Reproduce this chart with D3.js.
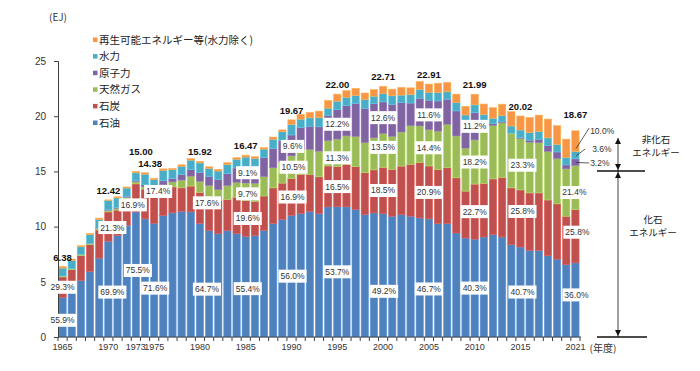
<!DOCTYPE html>
<html>
<head>
<meta charset="utf-8">
<script src="https://cdn.jsdelivr.net/npm/d3@7"></script>
<style>
  body { margin: 0; background: #fff; }
  svg { display: block; }
</style>
</head>
<body>
<div id="chart"></div>
<script>
// 年度
var years = d3.range(1965, 2022);

// EJ, 1965..2021
var oil = [3.57, 4.20, 5.12, 5.94, 7.15, 8.68, 9.20, 10.12, 11.33, 10.70,
  10.30, 11.00, 11.25, 11.39, 11.34, 10.30, 9.64, 9.36, 9.64, 9.36,
  9.12, 9.18, 9.67, 10.27, 10.64, 11.02, 11.18, 11.39, 11.18, 11.79,
  11.81, 11.79, 11.55, 11.09, 11.24, 11.17, 10.94, 11.09, 10.94, 10.79,
  10.70, 10.27, 10.27, 9.42, 8.97, 8.86, 9.06, 9.27, 9.06, 8.36,
  8.15, 7.85, 7.85, 7.36, 7.06, 6.55, 6.72];
var coal = [1.87, 1.90, 2.25, 2.42, 2.55, 2.65, 2.30, 2.35, 2.54, 2.70,
  2.50, 2.40, 2.35, 2.12, 2.33, 2.80, 3.10, 3.00, 2.82, 3.30,
  3.23, 3.10, 3.10, 3.24, 3.30, 3.32, 3.55, 3.33, 3.33, 3.70,
  3.63, 3.85, 3.88, 3.79, 3.90, 4.20, 4.24, 4.39, 4.70, 5.00,
  4.79, 4.90, 5.06, 5.00, 4.24, 4.99, 4.85, 5.05, 5.40, 5.15,
  5.17, 5.20, 5.20, 5.05, 5.00, 4.39, 4.82];
var gas = [0.08, 0.08, 0.10, 0.12, 0.15, 0.15, 0.15, 0.18, 0.20, 0.22,
  0.33, 0.40, 0.45, 0.70, 0.90, 1.00, 1.00, 1.00, 1.27, 1.35,
  1.60, 1.65, 1.76, 1.82, 1.90, 2.07, 2.27, 2.27, 2.33, 2.30,
  2.49, 2.58, 2.73, 2.73, 2.90, 3.07, 3.00, 3.09, 3.50, 3.33,
  3.30, 3.48, 3.94, 3.79, 3.90, 4.00, 4.75, 4.85, 4.95, 4.95,
  4.66, 4.60, 4.55, 4.40, 4.10, 4.30, 4.00];
var nuclear = [0, 0, 0, 0.01, 0.02, 0.04, 0.07, 0.09, 0.10, 0.18,
  0.22, 0.35, 0.30, 0.50, 0.60, 0.82, 0.80, 0.90, 1.06, 1.30,
  1.50, 1.55, 1.73, 1.73, 1.95, 1.89, 1.97, 2.10, 2.20, 2.27,
  2.68, 2.73, 3.00, 3.10, 3.10, 2.86, 2.90, 2.67, 2.05, 2.50,
  2.66, 2.73, 2.27, 2.27, 2.40, 2.46, 0.88, 0.15, 0.10, 0.00,
  0.09, 0.18, 0.30, 0.55, 0.60, 0.35, 0.60];
var hydro = [0.72, 0.75, 0.70, 0.78, 0.78, 0.85, 0.88, 0.75, 0.70, 0.95,
  0.90, 0.95, 0.80, 0.76, 0.85, 0.85, 0.73, 0.77, 0.85, 0.78,
  0.85, 0.70, 0.76, 0.85, 0.80, 0.95, 0.76, 0.76, 0.82, 0.67,
  0.75, 0.76, 0.70, 0.79, 0.67, 0.75, 0.77, 0.67, 0.76, 0.79,
  0.72, 0.76, 0.67, 0.76, 0.60, 0.72, 0.60, 0.50, 0.55, 0.65,
  0.68, 0.68, 0.70, 0.68, 0.68, 0.68, 0.67];
var renew = [0.14, 0.13, 0.10, 0.12, 0.12, 0.05, 0.10, 0.10, 0.13, 0.13,
  0.13, 0.13, 0.12, 0.13, 0.15, 0.15, 0.15, 0.15, 0.15, 0.15,
  0.17, 0.15, 0.13, 0.20, 0.17, 0.42, 0.45, 0.50, 0.60, 0.70,
  0.64, 0.60, 0.67, 0.60, 0.60, 0.66, 0.60, 0.70, 0.62, 0.73,
  0.74, 0.85, 0.85, 0.76, 0.79, 0.96, 0.96, 0.95, 1.03, 1.30,
  1.27, 1.37, 1.50, 1.70, 1.70, 1.65, 1.87];

var seriesKeys = ["oil", "coal", "gas", "nuclear", "hydro", "renew"];
var seriesNames = { oil: "石油", coal: "石炭", gas: "天然ガス", nuclear: "原子力", hydro: "水力", renew: "再生可能エネルギー等(水力除く)" };
var colors = { oil: "#4f81bd", coal: "#c0504d", gas: "#9bbb59", nuclear: "#8064a2", hydro: "#4bacc6", renew: "#f79646" };

var tickYears = [1965, 1970, 1973, 1975, 1980, 1985, 1990, 1995, 2000, 2005, 2010, 2015, 2021];

var totalYears = [1965, 1970, 1973, 1975, 1980, 1985, 1990, 1995, 2000, 2005, 2010, 2015, 2021];
var totalText = ["6.38", "12.42", "15.00", "14.38", "15.92", "16.47", "19.67", "22.00", "22.71", "22.91", "21.99", "20.02", "18.67"];

// 構成比ラベル
var shareLabels = [
  { year: 1965, key: "oil", text: "55.9%" }, { year: 1965, key: "coal", text: "29.3%" },
  { year: 1970, key: "oil", text: "69.9%" }, { year: 1970, key: "coal", text: "21.3%" },
  { year: 1973, key: "oil", text: "75.5%" }, { year: 1973, key: "coal", text: "16.9%" },
  { year: 1975, key: "oil", text: "71.6%" }, { year: 1975, key: "coal", text: "17.4%" },
  { year: 1980, key: "oil", text: "64.7%" }, { year: 1980, key: "coal", text: "17.6%" },
  { year: 1985, key: "oil", text: "55.4%" }, { year: 1985, key: "coal", text: "19.6%" },
  { year: 1985, key: "gas", text: "9.7%" }, { year: 1985, key: "nuclear", text: "9.1%" },
  { year: 1990, key: "oil", text: "56.0%" }, { year: 1990, key: "coal", text: "16.9%" },
  { year: 1990, key: "gas", text: "10.5%" }, { year: 1990, key: "nuclear", text: "9.6%" },
  { year: 1995, key: "oil", text: "53.7%" }, { year: 1995, key: "coal", text: "16.5%" },
  { year: 1995, key: "gas", text: "11.3%" }, { year: 1995, key: "nuclear", text: "12.2%" },
  { year: 2000, key: "oil", text: "49.2%" }, { year: 2000, key: "coal", text: "18.5%" },
  { year: 2000, key: "gas", text: "13.5%" }, { year: 2000, key: "nuclear", text: "12.6%" },
  { year: 2005, key: "oil", text: "46.7%" }, { year: 2005, key: "coal", text: "20.9%" },
  { year: 2005, key: "gas", text: "14.4%" }, { year: 2005, key: "nuclear", text: "11.6%" },
  { year: 2010, key: "oil", text: "40.3%" }, { year: 2010, key: "coal", text: "22.7%" },
  { year: 2010, key: "gas", text: "18.2%" }, { year: 2010, key: "nuclear", text: "11.2%" },
  { year: 2015, key: "oil", text: "40.7%" }, { year: 2015, key: "coal", text: "25.8%" },
  { year: 2015, key: "gas", text: "23.3%" },
  { year: 2021, key: "oil", text: "36.0%" }, { year: 2021, key: "coal", text: "25.8%" },
  { year: 2021, key: "gas", text: "21.4%" }
];
var calloutLabels = [
  { year: 2021, key: "renew", text: "10.0%" },
  { year: 2021, key: "hydro", text: "3.6%" },
  { year: 2021, key: "nuclear", text: "3.2%" }
];

// label nudges (px) where the original moved a label off the segment centre
var nudge = {
  "1965-oil": [0, 3], "1970-oil": [4, 3], "1970-coal": [4, 1],
  "1973-oil": [2, -4], "1973-coal": [-3, 7], "1975-oil": [1, 8], "1975-coal": [4, -18],
  "1980-oil": [7, 9], "1980-coal": [7, -5], "1985-oil": [2, 2], "1985-coal": [2, 0],
  "1985-gas": [2, 2], "1985-nuclear": [2, -2], "1990-oil": [1, 0], "1990-coal": [1, 0],
  "1990-gas": [2, 0], "1990-nuclear": [1, 1], "1995-gas": [0, 5],
  "2000-oil": [1, 16], "2000-gas": [0, -3], "2005-oil": [0, 11],
  "2015-oil": [2, 0], "2015-coal": [2, -7], "2015-gas": [2, 1],
  "2021-oil": [1, -5], "2021-coal": [2, -4], "2021-gas": [-1, 5]
};
var totalNudge = { "1973": [5, -10], "1975": [-4, -5], "2021": [0, -7] };

var width = 700, height = 371;
var plotL = 58, plotR = 580, plotT = 61, plotB = 337;
var numFont = "'Liberation Sans', Arial, sans-serif";
var jpFont = "'Noto Sans CJK JP', sans-serif";

var rows = years.map(function (y, i) {
  return { year: y, oil: oil[i], coal: coal[i], gas: gas[i], nuclear: nuclear[i], hydro: hydro[i], renew: renew[i] };
});
var stacked = d3.stack().keys(seriesKeys)(rows);

var svg = d3.select("#chart").append("svg")
  .attr("width", width).attr("height", height);
svg.append("rect").attr("width", width).attr("height", height).attr("fill", "#fff");

var xScale = d3.scaleBand().domain(years).range([plotL, plotR]).paddingInner(0.2).paddingOuter(0.1);
var yScale = d3.scaleLinear().domain([0, 25]).range([plotB, plotT]);
var step = xScale.step();

// bars
svg.append("g").selectAll("g")
  .data(stacked).enter()
  .append("g")
  .attr("fill", function (d) { return colors[d.key]; })
  .attr("stroke", function (d) { return d3.color(colors[d.key]).brighter(0.5); })
  .attr("stroke-width", 0.6)
  .selectAll("rect")
  .data(function (d) { return d; }).enter()
  .append("rect")
  .attr("x", function (d) { return xScale(d.data.year); })
  .attr("width", xScale.bandwidth())
  .attr("y", function (d) { return yScale(d[1]); })
  .attr("height", function (d) { return Math.max(0, yScale(d[0]) - yScale(d[1])); });

// axes
var yAxis = d3.axisLeft(yScale).tickValues([0, 5, 10, 15, 20, 25]).tickSize(4).tickPadding(8);
var gy = svg.append("g").attr("transform", "translate(" + plotL + ",0)").call(yAxis);
gy.select(".domain").attr("stroke", "#404040");
gy.selectAll(".tick line").attr("stroke", "#404040");
gy.selectAll("text").attr("font-family", numFont).attr("font-size", 10).attr("fill", "#333");

var xAxis = d3.axisBottom(xScale).tickValues(tickYears).tickSize(0).tickPadding(7);
var gx = svg.append("g").attr("transform", "translate(0," + plotB + ")").call(xAxis);
gx.select(".domain").remove();
gx.selectAll("text").attr("font-family", numFont).attr("font-size", 9).attr("fill", "#333");
svg.append("line").attr("x1", plotL).attr("x2", plotR + 1).attr("y1", plotB).attr("y2", plotB)
  .attr("stroke", "#404040");
svg.append("g").selectAll("line")
  .data(d3.range(years.length + 1)).enter()
  .append("line")
  .attr("x1", function (i) { return plotL + i * step; })
  .attr("x2", function (i) { return plotL + i * step; })
  .attr("y1", plotB).attr("y2", plotB + 4)
  .attr("stroke", "#404040");

// unit
svg.append("text").attr("x", 58).attr("y", 21).attr("text-anchor", "middle")
  .attr("font-family", jpFont).attr("font-size", 10).attr("fill", "#333").text("(EJ)");
svg.append("text").attr("x", 603).attr("y", 352).attr("text-anchor", "middle")
  .attr("font-family", jpFont).attr("font-size", 10).attr("fill", "#333").text("(年度)");

// legend
var legendKeys = seriesKeys.slice().reverse();
var legend = svg.append("g").attr("transform", "translate(93,40)");
var item = legend.selectAll("g").data(legendKeys).enter().append("g")
  .attr("transform", function (d, i) { return "translate(0," + (i * 16.6) + ")"; });
item.append("rect").attr("x", 0).attr("y", -2.5).attr("width", 4.5).attr("height", 4.5)
  .attr("fill", function (d) { return colors[d]; });
item.append("text").attr("x", 6).attr("y", 0).attr("dy", "0.35em")
  .attr("font-family", jpFont).attr("font-size", 10.5).attr("fill", "#222")
  .text(function (d) { return seriesNames[d]; });

// share labels with white boxes
function segment(year, key) {
  return stacked[seriesKeys.indexOf(key)][years.indexOf(year)];
}
var lab = svg.append("g");
shareLabels.forEach(function (l) {
  var s = segment(l.year, l.key);
  var n = nudge[l.year + "-" + l.key] || [0, 0];
  var cx = xScale(l.year) + xScale.bandwidth() / 2 + n[0];
  var cy = yScale((s[0] + s[1]) / 2) + n[1];
  var g = lab.append("g");
  var t = g.append("text").attr("x", cx).attr("y", cy).attr("dy", "0.35em")
    .attr("text-anchor", "middle").attr("font-family", numFont).attr("font-size", 8.5)
    .attr("fill", "#333").text(l.text);
  var w = t.node().getComputedTextLength() + 4;
  g.insert("rect", "text").attr("x", cx - w / 2).attr("y", cy - 6.5)
    .attr("width", w).attr("height", 13).attr("fill", "#fff");
});

// call-outs for 2021 non-fossil shares
calloutLabels.forEach(function (l, i) {
  var s = segment(l.year, l.key);
  var x0 = xScale(l.year) + xScale.bandwidth() * 0.6;
  var y0 = yScale(s[0]) - 3;
  var tx = x0 + 14 + (l.key === "hydro" ? 2 : 0);
  var ty = [131, 149, 163][i];
  svg.append("line").attr("x1", x0).attr("y1", y0)
    .attr("x2", tx - (l.key === "hydro" ? 7 : 1)).attr("y2", ty - (l.key === "renew" ? 3 : 0))
    .attr("stroke", "#333").attr("stroke-width", 0.8);
  svg.append("text").attr("x", tx).attr("y", ty).attr("dy", "0.35em")
    .attr("font-family", numFont).attr("font-size", 8.5).attr("fill", "#333").text(l.text);
});

// totals
function totalOf(y) {
  var r = rows[years.indexOf(y)];
  return d3.sum(seriesKeys, function (k) { return r[k]; });
}
svg.append("g").selectAll("text")
  .data(totalYears).enter()
  .append("text")
  .attr("x", function (y) { var n = totalNudge[y] || [0, 0]; return xScale(y) + xScale.bandwidth() / 2 + n[0]; })
  .attr("y", function (y) { var n = totalNudge[y] || [0, 0]; return yScale(totalOf(y)) - 6 + n[1]; })
  .attr("text-anchor", "middle")
  .attr("font-family", numFont).attr("font-size", 9.5).attr("font-weight", "bold").attr("fill", "#111")
  .text(function (y, i) { return totalText[i]; });

// fossil / non-fossil brackets
var ax = 618;
var ySplit = 171, yTop = 138;
var br = svg.append("g").attr("stroke", "#111").attr("fill", "#111");
br.append("line").attr("x1", 597).attr("x2", 645).attr("y1", ySplit).attr("y2", ySplit).attr("stroke-width", 1.5);
br.append("line").attr("x1", 597).attr("x2", 647).attr("y1", plotB).attr("y2", plotB).attr("stroke-width", 1.5);
br.append("line").attr("x1", ax).attr("x2", ax).attr("y1", yTop).attr("y2", plotB).attr("stroke-width", 0.8);
function head(y, dir) {
  br.append("path").attr("stroke", "none")
    .attr("d", "M" + ax + "," + y + "L" + (ax - 3) + "," + (y - dir * 6) + "L" + (ax + 3) + "," + (y - dir * 6) + "Z");
}
head(yTop, -1);
head(ySplit - 1, 1);
head(ySplit + 1, -1);
head(plotB - 1, 1);

var note = svg.append("g").attr("font-family", jpFont).attr("font-size", 9.5).attr("fill", "#222").attr("text-anchor", "middle");
note.append("text").attr("x", 656).attr("y", 140).attr("dy", "0.35em").text("非化石");
note.append("text").attr("x", 656).attr("y", 152.5).attr("dy", "0.35em").text("エネルギー");
note.append("text").attr("x", 653).attr("y", 220).attr("dy", "0.35em").text("化石");
note.append("text").attr("x", 653).attr("y", 232.5).attr("dy", "0.35em").text("エネルギー");
</script>
</body>
</html>
